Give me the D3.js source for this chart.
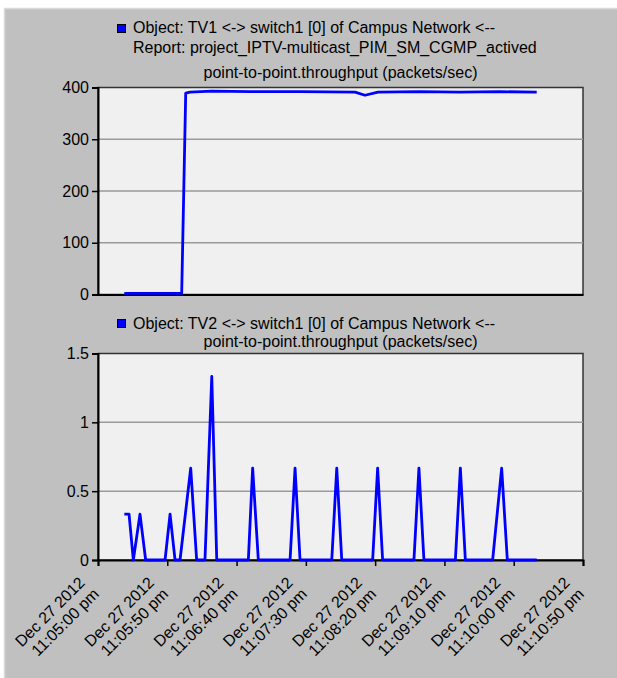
<!DOCTYPE html>
<html>
<head>
<meta charset="utf-8">
<script src="https://cdn.jsdelivr.net/npm/d3@7"></script>
<style>
  html, body { margin: 0; padding: 0; background: #ffffff; }
  svg { display: block; }
  text { font-family: "Liberation Sans", Arial, sans-serif; font-size: 16px; fill: #000; }
</style>
</head>
<body>
<svg id="chart" width="617" height="678"></svg>
<script>
// ---- data ----
const startTime = "2012-12-27T23:05:00";
// x tick labels (every 50 s)
const tickOffsets = [0, 50, 100, 150, 200, 250, 300, 350];
const tickDateLabels = ["Dec 27 2012","Dec 27 2012","Dec 27 2012","Dec 27 2012","Dec 27 2012","Dec 27 2012","Dec 27 2012","Dec 27 2012"];
const tickTimeLabels = ["11:05:00 pm","11:05:50 pm","11:06:40 pm","11:07:30 pm","11:08:20 pm","11:09:10 pm","11:10:00 pm","11:10:50 pm"];

// TV1 <-> switch1 throughput (seconds after 11:05:00 pm, packets/sec)
const tv1Seconds = [19.0, 60.4, 63.3, 66.4, 82, 110, 146, 185.5, 192.7, 202, 232, 261, 290, 316.6];
const tv1Values  = [2,    2,    389,  391,  393, 392, 392, 391,  385,   391, 392, 391, 392, 391];

// TV2 <-> switch1 throughput
const tv2Seconds = [19.0, 22.4, 25.5, 30.3, 34.4, 48.4, 52.0, 55.6, 59.2, 66.9, 71.2, 77.2, 82.1, 85.7,
                    108.5, 111.6, 115.7, 138.6, 142.2, 145.8, 168.7, 172.3, 175.9, 198.2, 201.8, 205.4,
                    228.0, 231.6, 235.2, 257.9, 261.5, 265.1, 284.8, 291.3, 295.4, 316.6];
const tv2Values  = [0.333, 0.333, 0, 0.333, 0, 0, 0.333, 0, 0, 0.667, 0, 0, 1.333, 0,
                    0, 0.667, 0, 0, 0.667, 0, 0, 0.667, 0, 0, 0.667, 0,
                    0, 0.667, 0, 0, 0.667, 0, 0, 0.667, 0, 0];

const tv1YTicks = [0, 100, 200, 300, 400];
const tv2YTicks = [0, 0.5, 1, 1.5];
const tv2YLabels = ["0", "0.5", "1", "1.5"];

// ---- drawing ----
const svg = d3.select("#chart");
const t0 = new Date(startTime);
const toDate = s => new Date(t0.getTime() + s * 1000);

// background panel
svg.append("rect").attr("x", 4).attr("y", 8).attr("width", 613).attr("height", 670).attr("fill", "#c0c0c0");
svg.append("line").attr("x1", 4.5).attr("x2", 4.5).attr("y1", 8).attr("y2", 678).attr("stroke", "#dadada").attr("stroke-width", 1.5);
svg.append("line").attr("x1", 4).attr("x2", 617).attr("y1", 8.5).attr("y2", 8.5).attr("stroke", "#dadada").attr("stroke-width", 1.5);

const left = 98, right = 583;
const x = d3.scaleTime().domain([toDate(0), toDate(350)]).range([left, right]);

function panel(top, bottom, yDomain, yTicks, yLabels, secs, vals, showX) {
  const y = d3.scaleLinear().domain(yDomain).range([bottom, top]);
  const g = svg.append("g");
  g.append("rect").attr("x", left).attr("y", top).attr("width", right - left).attr("height", bottom - top)
    .attr("fill", "#f0f0f0").attr("stroke", "#333").attr("stroke-width", 1.5);
  // gridlines
  g.append("g").selectAll("line").data(yTicks.filter(v => v !== yDomain[0] && v !== yDomain[1]))
    .join("line").attr("x1", left).attr("x2", right)
    .attr("y1", d => y(d)).attr("y2", d => y(d))
    .attr("stroke", "#9a9a9a").attr("stroke-width", 1.5);
  // y axis
  const ya = d3.axisLeft(y).tickValues(yTicks).tickSize(6).tickPadding(3)
    .tickFormat((d, i) => yLabels ? yLabels[i] : d);
  const yg = g.append("g").attr("transform", `translate(${left},0)`).call(ya);
  yg.select(".domain").attr("stroke", "#000").attr("stroke-width", 2);
  yg.selectAll(".tick line").attr("stroke", "#000").attr("stroke-width", 1.5);
  yg.selectAll(".tick text").style("font-family", "'Liberation Sans', Arial, sans-serif").style("font-size", "16px").attr("fill", "#000");
  // x axis
  const xa = d3.axisBottom(x).tickValues(tickOffsets.map(toDate)).tickSize(showX ? 6 : 0).tickFormat("");
  const xg = g.append("g").attr("transform", `translate(0,${bottom})`).call(xa);
  xg.select(".domain").attr("stroke", "#000").attr("stroke-width", 2);
  xg.selectAll(".tick line").attr("stroke", "#000").attr("stroke-width", 1.5);
  // line
  const pts = secs.map((s, i) => [toDate(s), vals[i]]);
  g.append("path").datum(pts)
    .attr("d", d3.line().x(d => x(d[0])).y(d => y(d[1])))
    .attr("fill", "none").attr("stroke", "#0000ff").attr("stroke-width", 2.8)
    .attr("stroke-linejoin", "round");
  return y;
}

panel(87.5, 294.5, [0, 400], tv1YTicks, null, tv1Seconds, tv1Values, false);
panel(353.5, 560, [0, 1.5], tv2YTicks, tv2YLabels, tv2Seconds, tv2Values, true);

// titles
function legendSquare(yTop) {
  svg.append("rect").attr("x", 117.5).attr("y", yTop).attr("width", 8).attr("height", 8)
    .attr("fill", "#0000ff").attr("stroke", "#000").attr("stroke-width", 1);
}
legendSquare(24.5);
svg.append("text").attr("x", 133).attr("y", 32.5).text("Object: TV1 <-> switch1 [0] of Campus Network <--");
svg.append("text").attr("x", 133).attr("y", 52.5).text("Report: project_IPTV-multicast_PIM_SM_CGMP_actived");
svg.append("text").attr("x", (left + right) / 2).attr("y", 77.5).attr("text-anchor", "middle").text("point-to-point.throughput (packets/sec)");

legendSquare(319.5);
svg.append("text").attr("x", 133).attr("y", 328.5).text("Object: TV2 <-> switch1 [0] of Campus Network <--");
svg.append("text").attr("x", (left + right) / 2).attr("y", 346.5).attr("text-anchor", "middle").text("point-to-point.throughput (packets/sec)");

// rotated x tick labels
const lg = svg.append("g").selectAll("g").data(tickOffsets).join("g")
  .attr("transform", d => `translate(${x(toDate(d)) + 2},595) rotate(-45)`);
lg.append("text").attr("text-anchor", "end").attr("x", -2).attr("y", -18).text((d, i) => tickDateLabels[i]);
lg.append("text").attr("text-anchor", "end").attr("x", 0).attr("y", 0).text((d, i) => tickTimeLabels[i]);
</script>
</body>
</html>
